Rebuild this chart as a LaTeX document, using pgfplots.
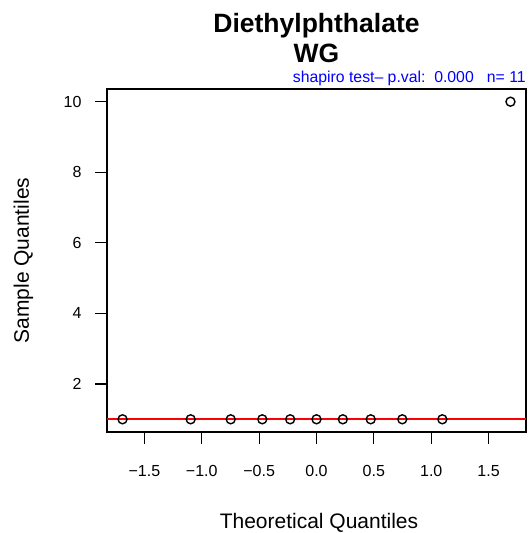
\documentclass[border=0pt]{standalone}
\usepackage{fontspec}
\setmainfont{Liberation Sans}
\usepackage{pgfplots}
\pgfplotsset{compat=1.18}
\begin{document}
\begin{tikzpicture}[x=1pt,y=1pt]
\begin{axis}[
  at={(0,0)}, anchor=south west,
  width=419pt, height=343pt, scale only axis,
  xmin=-1.826, xmax=1.826,
  ymin=0.64, ymax=10.36,
  xtick={-1.5,-1,-0.5,0,0.5,1,1.5},
  xticklabels={−1.5,−1.0,−0.5,0.0,0.5,1.0,1.5},
  ytick={2,4,6,8,10},
  xtick pos=lower, ytick pos=left,
  tick align=outside,
  major tick length=12pt,
  tick style={black, line width=1.2pt},
  axis line style={line width=1.3pt},
  /pgf/number format/assume math mode=true,
  ticklabel style={font=\fontsize{16}{16}\selectfont},
  xticklabel style={yshift=-18pt},
  yticklabel style={xshift=-10pt},
  clip=true,
]
\addplot[draw=red, color=red, line width=1.8pt, mark=none] coordinates {(-1.826,1) (1.826,1)};
\addplot[only marks, mark=o, mark size=4.5pt, mark options={line width=1.4pt, draw=black}] coordinates {
  (-1.6906,1) (-1.0968,1) (-0.7478,1) (-0.4727,1) (-0.2294,1) (0,1)
  (0.2294,1) (0.4727,1) (0.7478,1) (1.0968,1) (1.6906,10)
};
\end{axis}
\node[anchor=base, font=\bfseries\fontsize{26.5}{26.5}\selectfont] at (209.5,399) {Diethylphthalate};
\node[anchor=base, font=\bfseries\fontsize{26.5}{26.5}\selectfont] at (209.5,369) {WG};
\node[anchor=base east, inner sep=0pt, text=blue, font=\fontsize{15.8}{15.8}\selectfont] at (419,349) {shapiro test– p.val:\ \ 0.000\ \ \ n= 11};
\node[anchor=base, inner sep=0pt, font=\fontsize{21}{21}\selectfont] at (212,-96) {Theoretical Quantiles};
\node[anchor=base, inner sep=0pt, rotate=90, font=\fontsize{21}{21}\selectfont] at (-78,171.5) {Sample Quantiles};
\path[use as bounding box] (-107,-101) rectangle (421,432);
\end{tikzpicture}
\end{document}
